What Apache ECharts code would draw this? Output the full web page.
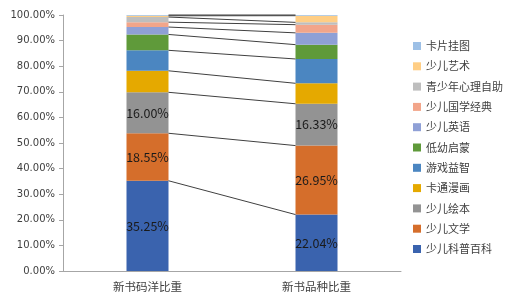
<!DOCTYPE html>
<html><head><meta charset="utf-8">
<script src="https://cdn.jsdelivr.net/npm/echarts@6/dist/echarts.min.js"></script>
<style>html,body{margin:0;padding:0;background:#fff}#c{width:519px;height:304px}</style>
</head><body><div id="c"></div>
<script>
const categories = ['新书码洋比重', '新书品种比重'];
const seriesNames = ['少儿科普百科','少儿文学','少儿绘本','卡通漫画','游戏益智','低幼启蒙','少儿英语','少儿国学经典','青少年心理自助','少儿艺术','卡片挂图'];
const codeShare =    [35.25, 18.55, 16.00, 8.4, 8.0, 6.2, 2.9, 1.9, 2.0, 0.5, 0.3];
const varietyShare = [22.04, 26.95, 16.33, 8.0, 9.5, 5.6, 4.6, 3.2, 0.9, 2.6, 0.28];
const labelledCount = 3;
const yTicks = [0,10,20,30,40,50,60,70,80,90,100];

const colors = ['#3a63ae','#d56e2b','#939393','#e5a900','#4b86c1','#5f9a3a','#8fa0d6','#f2a58a','#bebebe','#ffce85','#9dc0e6'];
const BAR_W = 42;

const series = seriesNames.map((name, i) => ({
  name, type: 'bar', stack: 'total', barWidth: BAR_W,
  itemStyle: { color: colors[i] },
  label: {
    show: i < labelledCount, position: 'inside', color: '#1a1a1a',
    fontFamily: 'Noto Sans CJK SC', fontSize: 12.5,
    formatter: p => p.value.toFixed(2) + '%'
  },
  data: [codeShare[i], varietyShare[i]]
}));

const connectors = [];
let cl = 0, cr = 0;
for (let i = 0; i < seriesNames.length; i++) {
  cl += codeShare[i]; cr += varietyShare[i];
  connectors.push([0, Math.min(cl, 100), Math.min(cr, 100)]);
}
series.push({
  type: 'custom', name: 'connectors', silent: true, z: 5,
  encode: { x: 0, y: [1, 2] },
  data: connectors,
  renderItem: (params, api) => {
    const l = api.coord([0, api.value(1)]);
    const r = api.coord([1, api.value(2)]);
    return { type: 'line',
      shape: { x1: l[0] + BAR_W / 2, y1: l[1], x2: r[0] - BAR_W / 2, y2: r[1] },
      style: { stroke: '#404040', lineWidth: 1 } };
  }
});

const chart = echarts.init(document.getElementById('c'));
chart.setOption({
  animation: false,
  grid: { left: 63, right: 118, top: 15, bottom: 33 },
  legend: {
    orient: 'vertical', left: 408, top: 35,
    itemWidth: 8, itemHeight: 8, itemGap: 8.3,
    icon: 'rect',
    data: seriesNames.slice().reverse(),
    textStyle: { fontFamily: 'Noto Sans CJK SC', fontSize: 11, color: '#404040', lineHeight: 12 }
  },
  xAxis: {
    type: 'category', data: categories,
    axisLine: { lineStyle: { color: '#a6a6a6' } },
    axisTick: { show: false },
    axisLabel: { fontFamily: 'Noto Sans CJK SC', fontSize: 11.5, color: '#404040', margin: 10 }
  },
  yAxis: {
    type: 'value', min: yTicks[0], max: yTicks[yTicks.length - 1], interval: 10,
    axisLine: { show: true, lineStyle: { color: '#a6a6a6' } },
    axisTick: { show: true, length: 4, lineStyle: { color: '#a6a6a6' } },
    splitLine: { show: false },
    axisLabel: { fontFamily: 'DejaVu Sans', fontSize: 10, color: '#404040', margin: 8,
      formatter: v => v.toFixed(2) + '%' }
  },
  series
});
</script></body></html>
